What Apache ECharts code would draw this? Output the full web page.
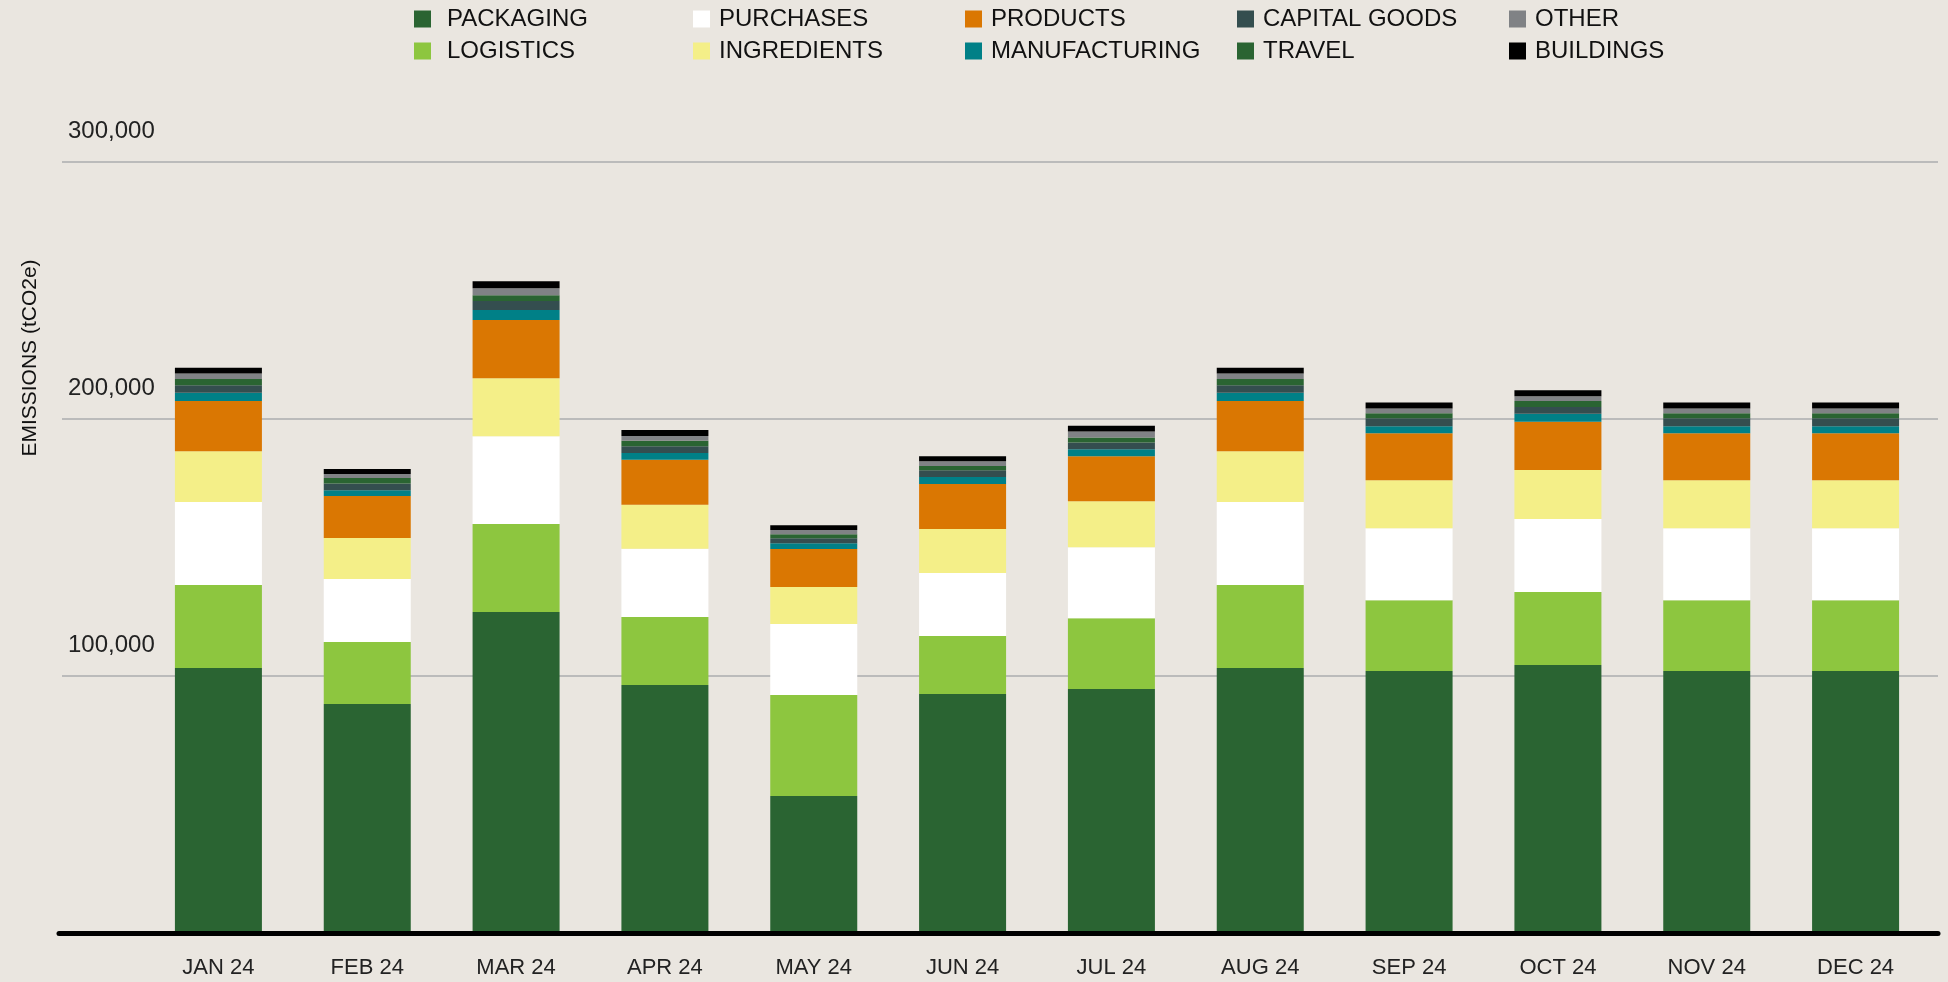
<!DOCTYPE html>
<html>
<head>
    <meta charset="utf-8">
    <title>Emissions by month</title>
    <script src="https://cdn.jsdelivr.net/npm/echarts@6/dist/echarts.min.js"></script>
    <style>
        html, body { margin: 0; padding: 0; background: #EAE6E0; }
    </style>
</head>
<body>
    <div id="chartView" style="width: 1948px;height: 982px;"></div>
</body>

<script>
    // months on the x axis
    var months = ['JAN 24','FEB 24','MAR 24','APR 24','MAY 24','JUN 24','JUL 24','AUG 24','SEP 24','OCT 24','NOV 24','DEC 24'];
    var yTicks = [0, 100000, 200000, 300000];

    // stacked from the bottom up (tCO2e)
    var packaging     = [103100, 89100, 124900, 96500, 53300, 93000, 94900, 103100, 101900, 104300, 101900, 101900];
    var logistics     = [32300, 24100, 34200, 26500, 39300, 22600, 27600, 32300, 27600, 28400, 27600, 27600];
    var purchases     = [32300, 24500, 34200, 26500, 27600, 24500, 27600, 32300, 28000, 28400, 28000, 28000];
    var ingredients   = [19800, 16000, 22600, 17100, 14400, 17100, 17900, 19800, 18700, 19100, 18700, 18700];
    var products      = [19500, 16300, 22600, 17500, 14800, 17500, 17500, 19500, 18300, 18700, 18300, 18300];
    var manufacturing = [3200, 2300, 3900, 2700, 2300, 2700, 2700, 3200, 2700, 3100, 2700, 2700];
    var capitalGoods  = [2900, 2600, 3500, 2600, 1900, 2700, 2700, 2900, 3100, 2700, 3100, 3100];
    var travel        = [2500, 2100, 2300, 2100, 1600, 1600, 1900, 2500, 1900, 2300, 1900, 1900];
    var other         = [2100, 1600, 2700, 1900, 1600, 1900, 2300, 2100, 1900, 1900, 1900, 1900];
    var buildings     = [2200, 1900, 2700, 2300, 1900, 1900, 2300, 2200, 2300, 2300, 2300, 2300];

    var seriesNames = ['PACKAGING','LOGISTICS','PURCHASES','INGREDIENTS','PRODUCTS','MANUFACTURING','CAPITAL GOODS','TRAVEL','OTHER','BUILDINGS'];
    var seriesData = [packaging, logistics, purchases, ingredients, products, manufacturing, capitalGoods, travel, other, buildings];
    var colors = ['#2A6432','#8DC63F','#FFFFFF','#F4EF88','#DA7702','#008087','#344E4F','#2A6432','#808285','#000000'];

    var font = "'Liberation Sans', Arial, sans-serif";
    var legendX = [414, 693, 965, 1237, 1509];
    var legendTextGap = [11, 4, 4, 4, 4];

    // legend laid out in columns of two
    var legends = [];
    for (var c = 0; c < 5; c++) {
        legends.push({
            orient: 'vertical',
            left: legendX[c],
            top: 7,
            padding: 0,
            itemGap: 8,
            itemWidth: 17,
            itemHeight: 17,
            icon: 'rect',
            selectedMode: false,
            data: [seriesNames[c * 2], seriesNames[c * 2 + 1]],
            textStyle: {
                fontFamily: font,
                fontSize: 24,
                lineHeight: 24,
                color: '#111',
                padding: [0, 0, 0, legendTextGap[c]]
            }
        });
    }

    var series = [];
    seriesNames.forEach(function (name, i) {
        series.push({
            name: name,
            type: 'bar',
            stack: 'total',
            xAxisIndex: 2,
            yAxisIndex: 2,
            barWidth: 87,
            itemStyle: { color: colors[i] },
            data: seriesData[i]
        });
    });

    var option = {
        backgroundColor: '#EAE6E0',
        animation: false,
        legend: legends,
        grid: [
            { left: 62, right: 10, top: 162, bottom: 49 },
            { left: 59, right: 10, top: 162, bottom: 49 },
            { left: 144, right: 18, top: 162, bottom: 49 }
        ],
        xAxis: [
            { gridIndex: 0, type: 'value', show: false },
            {
                gridIndex: 1, type: 'value', z: 10,
                axisLine: { show: true, lineStyle: { color: '#000', width: 5 } },
                axisTick: { show: false },
                axisLabel: { show: false },
                splitLine: { show: false }
            },
            {
                gridIndex: 2, type: 'category', data: months,
                axisLine: { show: false },
                axisTick: { show: false },
                axisLabel: { margin: 24, fontFamily: font, fontSize: 22, color: '#222' }
            }
        ],
        yAxis: [
            {
                gridIndex: 0, type: 'value',
                min: yTicks[0], max: yTicks[yTicks.length - 1], interval: yTicks[1] - yTicks[0],
                axisLine: { show: false },
                axisTick: { show: false },
                splitLine: { lineStyle: { color: '#BBBBBB', width: 2 } },
                axisLabel: {
                    inside: true,
                    margin: 6,
                    showMinLabel: false,
                    verticalAlign: 'bottom',
                    padding: [0, 0, 19, 0],
                    fontFamily: font,
                    fontSize: 24,
                    lineHeight: 24,
                    color: '#222',
                    formatter: function (v) { return v.toLocaleString('en-US'); }
                }
            },
            { gridIndex: 1, type: 'value', min: 0, max: 300000, show: false },
            { gridIndex: 2, type: 'value', min: 0, max: 300000, show: false }
        ],
        graphic: [{
            type: 'text',
            x: 30,
            y: 358,
            rotation: Math.PI / 2,
            style: {
                text: 'EMISSIONS (tCO2e)',
                fontFamily: font,
                fontSize: 21,
                fill: '#111',
                textAlign: 'center',
                textVerticalAlign: 'middle'
            }
        }],
        series: series
    };

    var myChart = echarts.init(document.getElementById('chartView'));
    myChart.setOption(option, true);
</script>
</html>
